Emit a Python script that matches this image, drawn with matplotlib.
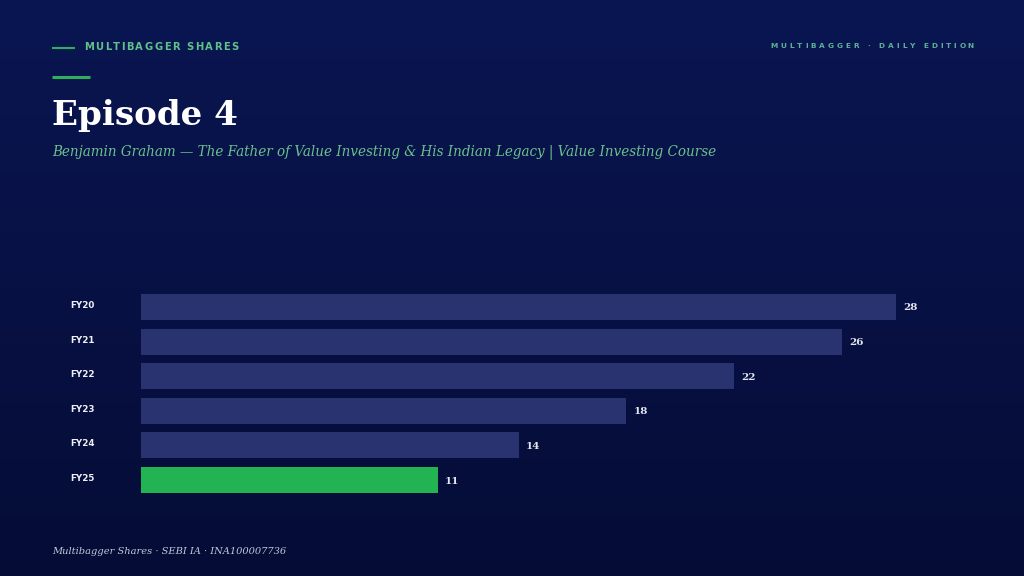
import matplotlib
matplotlib.use("Agg")
import matplotlib.pyplot as plt
import numpy as np

categories = ["FY20", "FY21", "FY22", "FY23", "FY24", "FY25"]
values = [28, 26, 22, 18, 14, 11]
highlight = "FY25"

title = "Episode 4"
subtitle = "Benjamin Graham — The Father of Value Investing & His Indian Legacy | Value Investing Course"
kicker = "MULTIBAGGER SHARES"
edition = "MULTIBAGGER · DAILY EDITION"
footer = "Multibagger Shares · SEBI IA · INA100007736"

W, H = 1024, 576
fig = plt.figure(figsize=(W / 100, H / 100), dpi=100)

# background gradient
bg = fig.add_axes([0, 0, 1, 1])
top = np.array([0x0a, 0x16, 0x52]) / 255
bot = np.array([0x05, 0x0c, 0x36]) / 255
t = np.linspace(0, 1, 256)[:, None]
grad = (top[None, :] * (1 - t) + bot[None, :] * t)[:, None, :]
bg.imshow(grad, aspect="auto", extent=[0, 1, 0, 1], origin="upper")
bg.set_xlim(0, 1); bg.set_ylim(0, 1)
bg.axis("off")

def fx(px): return px / W
def fy(py): return 1 - py / H

renderer = fig.canvas.get_renderer()

def _w(s, **kw):
    tt = fig.text(0, 0, s, **kw)
    w = tt.get_window_extent(renderer).width
    tt.remove()
    return w

def tracked(x, y, s, spacing, ha="left", **kw):
    base = _w("XX", **kw)
    adv = [_w("X" + ch + "X", **kw) - base for ch in s]
    total = sum(adv[:-1]) + spacing * (len(s) - 1) + _w(s[-1], **kw)
    cx = x if ha == "left" else x - total
    for ch, w in zip(s, adv):
        fig.text(fx(cx), fy(y), ch, va="center", ha="left", **kw)
        cx += w + spacing

green = "#22b352"
kcol = "#5fc08a"

# kicker
bg.plot([fx(52), fx(75)], [fy(48), fy(48)], color="#2fae5e", lw=1.5, solid_capstyle="butt")
tracked(84, 47, kicker, 1.5, fontsize=7.2, fontweight="bold", color=kcol, family="DejaVu Sans")
bg.plot([fx(52), fx(90)], [fy(76.5), fy(76.5)], color="#2fae5e", lw=2.2, solid_capstyle="butt")

# edition
tracked(974, 46, edition, 2.9, ha="right", fontsize=5.3, fontweight="bold", color="#5eb09a", family="DejaVu Sans")

# title
fig.text(fx(52), fy(125), title, fontsize=24.6, fontweight="bold", color="white",
         family="DejaVu Serif", va="baseline", ha="left")
fig.text(fx(52), fy(153), subtitle, fontsize=9.75, style="italic", color="#6cc090",
         family="DejaVu Serif", va="center", ha="left")

# footer
fig.text(fx(52), fy(551), footer, fontsize=7.15, style="italic", color="#c4c8d8",
         family="DejaVu Serif", va="center", ha="left")

# bars
ax = fig.add_axes([fx(141), fy(493), fx(896) - fx(141), fy(294) - fy(493)])
ax.set_facecolor("none")
y = np.arange(len(categories))
colors = [green if c == highlight else "#283370" for c in categories]
ax.barh(y, values, height=0.75, color=colors)
ax.set_xlim(0, 28)
ax.set_ylim(len(categories) - 0.625, -0.375)
for i, v in enumerate(values):
    ax.annotate(str(v), (v, i), xytext=(7, -1), textcoords="offset pixels",
                va="center", ha="left", fontsize=7.5, fontweight="bold",
                color="#e4e6f0", family="DejaVu Serif")
    ax.annotate(categories[i], (0, i), xytext=(70 - 141, 1.5), textcoords="offset pixels",
                xycoords=("axes fraction", "data"),
                va="center", ha="left", fontsize=6.3, fontweight="bold",
                color="#eef0f6", family="DejaVu Sans")
for s in ax.spines.values():
    s.set_visible(False)
ax.set_xticks([]); ax.set_yticks([])

fig.savefig("out.png", dpi=100)
